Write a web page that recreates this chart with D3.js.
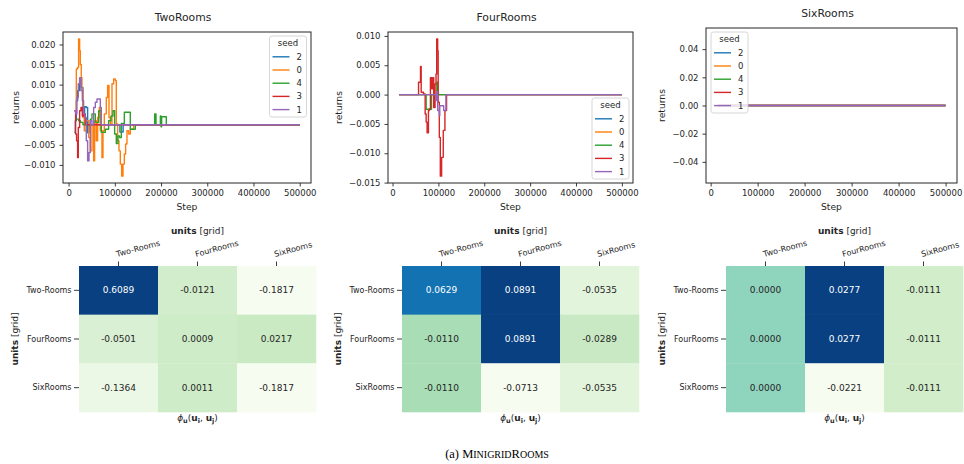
<!DOCTYPE html>
<html><head><meta charset="utf-8">
<script src="https://cdn.jsdelivr.net/npm/d3@7"></script>
<style>
body{margin:0;background:#fff}
svg{display:block}
text{font-family:"DejaVu Sans",sans-serif;fill:#262626}
</style>
</head><body>
<svg id="c" width="964" height="464"></svg>
<script>
// ---------- DATA ----------
const seeds = ["2", "0", "4", "3", "1"];
const seedColors = ["#1f77b4", "#ff7f0e", "#2ca02c", "#d62728", "#9467bd"];
const xTicks = [0, 100000, 200000, 300000, 400000, 500000];
const yTicksTwo = [-0.010, -0.005, 0, 0.005, 0.010, 0.015, 0.020];
const yTicksFour = [-0.015, -0.010, -0.005, 0, 0.005, 0.010];
const yTicksSix = [-0.04, -0.02, 0, 0.02, 0.04];

// TwoRooms: [step, return]
const two_seed2 = [[12300,-0.0019],[14500,0.001],[16700,0.006],[19600,0.0085],[23900,0.0114],[27500,0.0093],[31100,0.0022],[34700,0.0045],[38300,0.0043],[41200,-0.002],[44100,0],[108000,0],[111000,-0.0018],[116000,-0.0018],[118000,0],[500000,0]];
const two_seed0 = [[14500,0.0035],[16700,0.0139],[19600,0.0143],[21700,0.0214],[23900,0.0185],[25300,0.015],[27500,0.0118],[28900,0.0085],[31100,0.0018],[33900,-0.0015],[38300,0.001],[43400,-0.0032],[47000,-0.0065],[50600,0.0],[54200,-0.009],[56300,0.001],[59900,-0.004],[62800,0.0018],[66400,0.0043],[68600,-0.0015],[72200,-0.0082],[74400,-0.0015],[77300,0.0027],[81600,0.0068],[84500,0.0098],[87400,0.0018],[90300,0.0002],[93900,0.0102],[97500,0.0114],[101100,0.011],[103200,0.0002],[106100,-0.004],[109000,-0.0065],[111900,-0.0098],[114800,-0.0128],[117700,-0.0098],[120600,-0.0073],[123400,-0.0048],[126300,-0.0015],[129900,-0.0023],[133500,-0.0011],[137200,-0.0011],[140800,0],[500000,0]];
const two_seed4 = [[14500,0.0014],[21700,0.001],[25300,0.0006],[31100,0],[39700,0],[47000,0.0014],[50600,0.0027],[57800,0.0006],[65000,0.0035],[68600,0.0035],[70800,-0.0019],[79400,-0.0011],[86600,0.001],[91700,0.0022],[96000,0.0035],[99600,-0.0023],[103200,-0.0047],[106800,-0.0028],[110400,-0.0032],[114100,0.0003],[117700,0.0003],[120600,0.0031],[129900,0.0031],[133500,-0.0011],[142900,-0.0011],[144300,0],[184000,0],[186200,0.0027],[189100,0],[197000,0],[198500,0.0022],[200000,-0.0005],[201300,0.002],[210000,0.002],[211400,0],[500000,0]];
const two_seed3 = [[12300,0.0035],[15200,-0.0023],[17300,-0.004],[19500,-0.0082],[21000,-0.0007],[23900,0.0035],[26800,0.0043],[29700,0.0022],[32500,0.0027],[36100,0],[500000,0]];
const two_seed1 = [[12300,0.0035],[15200,0.0027],[18100,0.0068],[21000,0.0102],[23900,0.0117],[26800,0.0085],[29700,0.006],[32500,0.0027],[35400,0.0018],[38300,-0.004],[41200,-0.009],[44100,-0.0069],[47000,0.001],[50600,0],[54200,0.0043],[57800,0.0056],[61400,0.0064],[65000,0.0064],[68600,0.0043],[70800,0],[500000,0]];

// FourRooms
const four_seed2 = [[14400,0],[500000,0]];
const four_seed0 = [[14400,0],[500000,0]];
const four_seed4 = [[14400,0],[72000,0],[73300,-0.0025],[84000,-0.0025],[85000,0],[95000,0],[96500,0.0021],[98500,0.0005],[100000,0],[500000,0]];
const four_seed3 = [[14400,0],[55000,0],[56700,0.0021],[61000,0.0048],[62500,0.0004],[67500,0.0001],[71100,-0.0033],[73300,-0.0047],[75400,-0.0065],[78300,-0.0027],[80500,-0.0024],[82600,0.0029],[85500,0.001],[87600,0.0029],[89800,-0.0022],[92700,0.0018],[94800,0.0035],[96300,0.0095],[98400,0.0075],[99500,-0.0013],[102000,-0.0073],[104200,-0.0139],[107000,-0.0107],[110600,-0.0061],[114200,-0.0027],[117800,0],[500000,0]];
const four_seed1 = [[14400,0],[92000,0],[94800,-0.001],[96500,0.0005],[98400,-0.0027],[102000,-0.0036],[103000,-0.0019],[110600,-0.0019],[111500,-0.0027],[115000,-0.0027],[116400,0],[500000,0]];

// SixRooms
const six_seed2 = [[14400,0],[500000,0]];
const six_seed0 = [[14400,0],[500000,0]];
const six_seed4 = [[14400,0],[500000,0]];
const six_seed3 = [[14400,0],[500000,0]];
const six_seed1 = [[14400,0],[500000,0]];

// Heatmaps
const units = ["Two-Rooms", "FourRooms", "SixRooms"];
const heat_two = [[0.6089,-0.0121,-0.1817],[-0.0501,0.0009,0.0217],[-0.1364,0.0011,-0.1817]];
const heat_four = [[0.0629,0.0891,-0.0535],[-0.0110,0.0891,-0.0289],[-0.0110,-0.0713,-0.0535]];
const heat_six = [[0.0000,0.0277,-0.0111],[0.0000,0.0277,-0.0111],[0.0000,-0.0221,-0.0111]];
const gnbu = ["#f7fcf0","#e0f3db","#ccebc5","#a8ddb5","#7bccc4","#4eb3d3","#2b8cbe","#0868ac","#084081"];

// ---------- DRAW ----------
const svg = d3.select("#c");
function fmt(dec) { return v => (v < -1e-12 ? "\u2212" : "") + Math.abs(v).toFixed(dec); }

function linePlot(cfg) {
  const g = svg.append("g");
  const all = cfg.series.flat();
  const xe = d3.extent(all, d => d[0]);
  const xp = (xe[1] - xe[0]) * 0.05;
  const x = d3.scaleLinear().domain([xe[0] - xp, xe[1] + xp]).range([cfg.left, cfg.right]);
  let ye = d3.extent(all, d => d[1]);
  let yd;
  if (ye[1] - ye[0] < 1e-12) yd = [-0.055, 0.055];
  else { const yp = (ye[1] - ye[0]) * 0.05; yd = [ye[0] - yp, ye[1] + yp]; }
  const y = d3.scaleLinear().domain(yd).range([cfg.bottom, cfg.top]);

  // lines
  const line = d3.line().x(d => x(d[0])).y(d => y(d[1])).curve(d3.curveStepAfter);
  cfg.series.forEach((s, i) => {
    g.append("path").datum(s).attr("d", line)
      .attr("fill", "none").attr("stroke", seedColors[i])
      .attr("stroke-width", 1.4).attr("stroke-linejoin", "round");
  });

  // axes
  const xa = g.append("g").attr("transform", `translate(0,${cfg.bottom})`)
    .call(d3.axisBottom(x).tickValues(xTicks).tickSize(3.5).tickPadding(3.6).tickFormat(d3.format("d")));
  const ya = g.append("g").attr("transform", `translate(${cfg.left},0)`)
    .call(d3.axisLeft(y).tickValues(cfg.yTicks).tickSize(3.5).tickPadding(4).tickFormat(fmt(cfg.dec)));
  [xa, ya].forEach(a => {
    a.select(".domain").remove();
    a.selectAll("line").attr("stroke", "#262626").attr("stroke-width", 0.9);
    a.selectAll("text").attr("font-size", 8.5).attr("font-family", "DejaVu Sans").attr("fill", "#262626");
  });
  g.append("rect").attr("x", cfg.left).attr("y", cfg.top)
    .attr("width", cfg.right - cfg.left).attr("height", cfg.bottom - cfg.top)
    .attr("fill", "none").attr("stroke", "#262626").attr("stroke-width", 1);

  // labels
  g.append("text").attr("x", (cfg.left + cfg.right) / 2 - 4).attr("y", cfg.titleY)
    .attr("text-anchor", "middle").attr("font-size", 10.8).text(cfg.title);
  g.append("text").attr("x", (cfg.left + cfg.right) / 2).attr("y", cfg.bottom + 27)
    .attr("text-anchor", "middle").attr("font-size", 9.2).text("Step");
  g.append("text").attr("transform", `translate(${cfg.yLabelX},${(cfg.top + cfg.bottom) / 2}) rotate(-90)`)
    .attr("text-anchor", "middle").attr("dy", "0.35em").attr("font-size", 9.2).text("returns");

  // legend
  const lw = 37, lh = 81;
  let lx, ly;
  if (cfg.legend === "ur") { lx = cfg.right - 4.5 - lw; ly = cfg.top + 4; }
  else if (cfg.legend === "lr") { lx = cfg.right - 4 - lw; ly = cfg.bottom - 4 - lh; }
  else { lx = cfg.left + 5; ly = cfg.top + 4; }
  const lg = g.append("g").attr("transform", `translate(${lx},${ly})`);
  lg.append("rect").attr("width", lw).attr("height", lh).attr("rx", 2.5)
    .attr("fill", "#fff").attr("fill-opacity", 0.8).attr("stroke", "#cccccc").attr("stroke-width", 0.8);
  lg.append("text").attr("x", lw / 2).attr("y", 10.2).attr("text-anchor", "middle").attr("font-size", 8.5).text("seed");
  seeds.forEach((s, i) => {
    const yy = 20.8 + i * 13.2;
    lg.append("line").attr("x1", 3).attr("x2", 20).attr("y1", yy).attr("y2", yy)
      .attr("stroke", seedColors[i]).attr("stroke-width", 1.4);
    lg.append("text").attr("x", 27).attr("y", yy).attr("dy", "0.35em").attr("font-size", 8.5).text(s);
  });
}

linePlot({left: 63, right: 311, top: 32, bottom: 183, title: "TwoRooms", titleY: 21, yLabelX: 16,
  legend: "ur", yTicks: yTicksTwo, dec: 3, series: [two_seed2, two_seed0, two_seed4, two_seed3, two_seed1]});
linePlot({left: 388, right: 633, top: 32, bottom: 183, title: "FourRooms", titleY: 21, yLabelX: 339,
  legend: "lr", yTicks: yTicksFour, dec: 3, series: [four_seed2, four_seed0, four_seed4, four_seed3, four_seed1]});
linePlot({left: 706, right: 957, top: 28, bottom: 183, title: "SixRooms", titleY: 17, yLabelX: 662,
  legend: "ul", yTicks: yTicksSix, dec: 2, series: [six_seed2, six_seed0, six_seed4, six_seed3, six_seed1]});

function lum(c) {
  const r = d3.rgb(c);
  const f = v => { v /= 255; return v <= 0.03928 ? v / 12.92 : Math.pow((v + 0.055) / 1.055, 2.4); };
  return 0.2126 * f(r.r) + 0.7152 * f(r.g) + 0.0722 * f(r.b);
}

function heatmap(cfg) {
  const g = svg.append("g");
  const x = d3.scaleBand().domain(units).range([cfg.x0, cfg.x0 + 237]);
  const y = d3.scaleBand().domain(units).range([266, 412]);
  const flat = cfg.data.flat();
  const color = d3.scaleSequential(d3.piecewise(d3.interpolateRgb, gnbu)).domain(d3.extent(flat));
  const cells = [];
  cfg.data.forEach((row, i) => row.forEach((v, j) => cells.push({r: units[i], c: units[j], v})));
  g.selectAll("rect.cell").data(cells).join("rect").attr("class", "cell")
    .attr("x", d => x(d.c)).attr("y", d => y(d.r))
    .attr("width", x.bandwidth() + 0.3).attr("height", y.bandwidth() + 0.3)
    .attr("fill", d => color(d.v));
  g.selectAll("text.ann").data(cells).join("text").attr("class", "ann")
    .attr("x", d => x(d.c) + x.bandwidth() / 2).attr("y", d => y(d.r) + y.bandwidth() / 2)
    .attr("dy", "0.35em").attr("text-anchor", "middle").attr("font-size", 9)
    .style("fill", d => lum(color(d.v)) > 0.408 ? "#262626" : "#ffffff")
    .text(d => d.v.toFixed(4));

  // top axis
  units.forEach(u => {
    const cx = x(u) + x.bandwidth() / 2;
    g.append("line").attr("x1", cx).attr("x2", cx).attr("y1", 266).attr("y2", 261.5)
      .attr("stroke", "#262626").attr("stroke-width", 0.9);
    g.append("text").attr("transform", `translate(${cx - 1.5},257) rotate(-15)`)
      .attr("font-size", 8).text(u);
  });
  // left axis
  units.forEach(u => {
    const cy = y(u) + y.bandwidth() / 2;
    g.append("line").attr("x1", cfg.x0 - 5).attr("x2", cfg.x0).attr("y1", cy).attr("y2", cy)
      .attr("stroke", "#262626").attr("stroke-width", 0.9);
    g.append("text").attr("x", cfg.x0 - 7.5).attr("y", cy).attr("dy", "0.35em")
      .attr("text-anchor", "end").attr("font-size", 8).text(u);
  });
  const cxm = cfg.x0 + 118.5;
  const t1 = g.append("text").attr("x", cxm).attr("y", 233.5).attr("text-anchor", "middle").attr("font-size", 9);
  t1.append("tspan").attr("font-weight", "bold").text("units");
  t1.append("tspan").text(" [grid]");
  const t2 = g.append("text").attr("transform", `translate(${cfg.x0 - 64},339) rotate(-90)`)
    .attr("text-anchor", "middle").attr("dy", "0.35em").attr("font-size", 9);
  t2.append("tspan").attr("font-weight", "bold").text("units");
  t2.append("tspan").text(" [grid]");
  const t3 = g.append("text").attr("x", cxm).attr("y", 421).attr("text-anchor", "middle").attr("font-size", 9);
  t3.append("tspan").attr("font-style", "italic").text("\u03D5");
  t3.append("tspan").attr("font-weight", "bold").attr("font-size", 6.5).attr("dy", 2).text("u");
  t3.append("tspan").attr("dy", -2).text("(");
  t3.append("tspan").attr("font-weight", "bold").text("u");
  t3.append("tspan").attr("font-weight", "bold").attr("font-size", 6.5).attr("dy", 2).text("i");
  t3.append("tspan").attr("dy", -2).text(", ");
  t3.append("tspan").attr("font-weight", "bold").text("u");
  t3.append("tspan").attr("font-weight", "bold").attr("font-size", 6.5).attr("dy", 2).text("j");
  t3.append("tspan").attr("dy", -2).text(")");
}

heatmap({x0: 79, data: heat_two});
heatmap({x0: 402, data: heat_four});
heatmap({x0: 726, data: heat_six});

// caption
const cap = svg.append("text").attr("x", 497).attr("y", 458).attr("text-anchor", "middle")
  .style("font-family", "'Liberation Serif', serif").style("fill", "#000").attr("font-size", 12.5);
cap.append("tspan").text("(a) M");
cap.append("tspan").attr("font-size", 10).text("INIGRID");
cap.append("tspan").text("R");
cap.append("tspan").attr("font-size", 10).text("OOMS");
</script>
</body></html>
